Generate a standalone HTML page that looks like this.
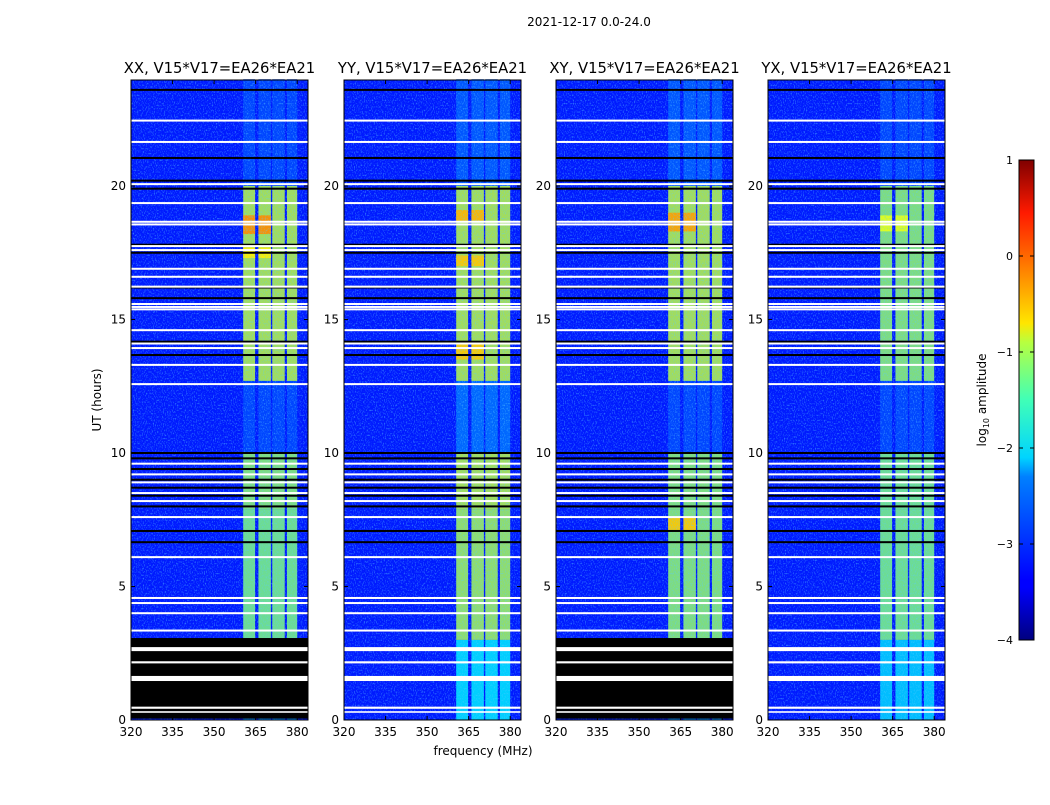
<!DOCTYPE html>
<html><head><meta charset="utf-8">
<style>
html,body{margin:0;padding:0;background:#fff;}
svg text{font-family:"DejaVu Sans","Liberation Sans",sans-serif;fill:#000;}
</style></head>
<body>
<svg id="fig" width="1050" height="800" xmlns="http://www.w3.org/2000/svg">
<defs>
<filter id="noise" x="0" y="0" width="100%" height="100%">
<feTurbulence type="fractalNoise" baseFrequency="0.9 0.6" numOctaves="1" seed="3"/>
<feColorMatrix type="matrix" values="0 0 0 0 0.1  0 0 0 0 0.6  0 0 0 0 1  0 0 0 3 -1.5"/>
</filter>
<linearGradient id="jet" x1="0" y1="1" x2="0" y2="0">
<stop offset="0" stop-color="#00007f"/><stop offset="0.11" stop-color="#0000ff"/>
<stop offset="0.125" stop-color="#0000ff"/><stop offset="0.34" stop-color="#0080ff"/>
<stop offset="0.38" stop-color="#00d4ff"/><stop offset="0.5" stop-color="#40ffb7"/>
<stop offset="0.62" stop-color="#b7ff40"/><stop offset="0.66" stop-color="#ffe600"/>
<stop offset="0.8" stop-color="#ff6800"/><stop offset="0.89" stop-color="#ff1a00"/>
<stop offset="1" stop-color="#800000"/>
</linearGradient>
</defs>
<text x="589" y="26" font-size="12" text-anchor="middle">2021-12-17 0.0-24.0</text>
<text x="483" y="755" font-size="12" text-anchor="middle">frequency (MHz)</text>
<text x="0" y="0" font-size="12" text-anchor="middle" transform="translate(101,400) rotate(-90)">UT (hours)</text>
<g id="panels"></g>
<g>
<rect x="1019" y="160" width="15" height="480" fill="url(#jet)" stroke="#000" stroke-width="1"/>
<g id="cbticks"></g>
<text x="0" y="0" font-size="12" text-anchor="middle" transform="translate(986,400) rotate(-90)">log<tspan font-size="8" dy="3">10</tspan><tspan dy="-3"> amplitude</tspan></text>
</g>
</svg>
<script>
// ---- data ----
const panelTitles = ["XX, V15*V17=EA26*EA21","YY, V15*V17=EA26*EA21","XY, V15*V17=EA26*EA21","YX, V15*V17=EA26*EA21"];
const xTicks = [320,335,350,365,380];
const yTicks = [0,5,10,15,20];
const cbTicks = [1,0,-1,-2,-3,-4];
const bandF0 = [360.5,366.0,371.0,376.3];
const bandF1 = [364.8,370.5,375.5,380.0];
const segT0 = [0.0,3.0,7.9,10.0,12.7,20.0];
const segT1 = [3.0,7.9,10.0,12.7,20.0,24.0];
const segLevelXX = [-2.6,-1.5,-1.4,-3.0,-1.2,-3.0];
const segLevelYY = [-2.2,-1.3,-1.2,-2.8,-1.2,-2.9];
const segLevelXY = [-2.6,-1.4,-1.4,-3.0,-1.2,-2.9];
const segLevelYX = [-2.3,-1.5,-1.5,-3.0,-1.4,-3.0];
const hotT0 = [[18.2,17.3],[13.5,18.7,17.0],[18.3,7.1],[18.3]];
const hotT1 = [[18.9,17.7],[14.1,19.1,17.4],[19.0,7.6],[18.9]];
const hotLevel = [[-0.3,-0.8],[-0.6,-0.5,-0.6],[-0.4,-0.6],[-1.0]];
const whiteLines = [22.45,21.65,20.07,19.36,18.66,18.56,17.75,17.6,16.9,16.6,16.23,15.58,15.47,15.38,14.6,14.1,13.93,13.3,12.58,9.6,9.2,8.9,8.5,8.2,7.6,6.1,4.57,4.38,4.0,3.35];
const blackLines = [23.6,21.05,20.2,19.9,17.8,17.5,16.2,15.8,14.17,13.67,10.0,9.8,9.4,9.0,8.7,8.4,8.0,7.08,6.66];
const lowFlagPanels = [true,false,true,false];
const lowWhiteT0 = [2.58,2.12,1.46,0.42,0.27];
const lowWhiteT1 = [2.73,2.2,1.65,0.5,0.33];
const panelX0 = [131,344,556,768];
// ---- layout helpers ----
const W=177, TOP=80, BOT=720;
const fx=(p,f)=>panelX0[p]+(f-320)*2.77;
const ty=t=>BOT-t*26.7;
function jet(v){v=Math.max(0,Math.min(1,(v+4)/5));
 const r=Math.max(0,Math.min(1,1.5-Math.abs(4*v-3))),g=Math.max(0,Math.min(1,1.5-Math.abs(4*v-2))),b=Math.max(0,Math.min(1,1.5-Math.abs(4*v-1)));
 return `rgb(${Math.round(r*255)},${Math.round(g*255)},${Math.round(b*255)})`;}
const NS="http://www.w3.org/2000/svg";
function mk(tag,attrs,parent){const e=document.createElementNS(NS,tag);for(const k in attrs)e.setAttribute(k,attrs[k]);parent.appendChild(e);return e;}
const root=document.getElementById('panels');
const levels=[segLevelXX,segLevelYY,segLevelXY,segLevelYX];
for(let p=0;p<4;p++){
 const g=mk('g',{},root);
 
 
 const x0=panelX0[p];
 const bg=mk('rect',{x:x0,y:TOP,width:W,height:BOT-TOP,fill:jet(-3.25)},g);
 
 
 for(let s=0;s<segT0.length;s++){
  for(let b=0;b<bandF0.length;b++){
   const r=mk('rect',{x:fx(p,bandF0[b]),y:ty(segT1[s]),width:fx(p,bandF1[b])-fx(p,bandF0[b]),height:ty(segT0[s])-ty(segT1[s]),fill:jet(levels[p][s]),opacity:0.85},g);
   
   
  }
 }
 for(let h=0;h<hotT0[p].length;h++){
  for(let b=0;b<2;b++){
   const r=mk('rect',{x:fx(p,bandF0[b]),y:ty(hotT1[p][h]),width:fx(p,bandF1[b])-fx(p,bandF0[b]),height:ty(hotT0[p][h])-ty(hotT1[p][h]),fill:jet(hotLevel[p][h]),opacity:0.9},g);
   
   
  }
 }
 mk('rect',{x:x0,y:TOP,width:W,height:BOT-TOP,filter:'url(#noise)',opacity:0.6},g);
 if(lowFlagPanels[p]){
  const r=mk('rect',{x:x0,y:ty(3.07),width:W,height:ty(0.05)-ty(3.07),fill:'#000'},g);
  
  
 }
 for(let i=0;i<lowWhiteT0.length;i++){
  const r=mk('rect',{x:x0,y:ty(lowWhiteT1[i]),width:W,height:ty(lowWhiteT0[i])-ty(lowWhiteT1[i]),fill:'#fff'},g);
  
  
 }
 for(const t of blackLines){const l=mk('rect',{x:x0,y:ty(t)-1,width:W,height:2,fill:'#000'},g);
  
  }
 for(const t of whiteLines){const l=mk('rect',{x:x0,y:ty(t)-1,width:W,height:2,fill:'#fff'},g);
  
  }
 const fr=mk('rect',{x:x0,y:TOP,width:W,height:BOT-TOP,fill:'none',stroke:'#000','stroke-width':1},g);
 
 
 const tt=mk('text',{x:x0+W/2,y:73,'font-size':14.8,'text-anchor':'middle'},g);tt.textContent=panelTitles[p];
 
 
 for(const f of xTicks){const x=fx(p,f);
  mk('line',{x1:x,x2:x,y1:BOT,y2:BOT-4,stroke:'#000'},g);mk('line',{x1:x,x2:x,y1:TOP,y2:TOP+4,stroke:'#000'},g);
  const t=mk('text',{x:x,y:BOT+16,'font-size':12,'text-anchor':'middle'},g);t.textContent=f;
  
  }
 for(const v of yTicks){const y=ty(v);
  mk('line',{x1:x0,x2:x0+4,y1:y,y2:y,stroke:'#000'},g);mk('line',{x1:x0+W,x2:x0+W-4,y1:y,y2:y,stroke:'#000'},g);
  const t=mk('text',{x:x0-5,y:y+4,'font-size':12,'text-anchor':'end'},g);t.textContent=v;
  
  }
}
const cb=document.getElementById('cbticks');
for(const v of cbTicks){const y=160+(1-v)*96;
 mk('line',{x1:1019,x2:1023,y1:y,y2:y,stroke:'#000'},cb);mk('line',{x1:1030,x2:1034,y1:y,y2:y,stroke:'#000'},cb);
 const t=mk('text',{x:1013,y:y+4,'font-size':11,'text-anchor':'end'},cb);t.textContent=(v<0?'\u2212'+(-v):v);
 
 }
</script>
</body></html>
